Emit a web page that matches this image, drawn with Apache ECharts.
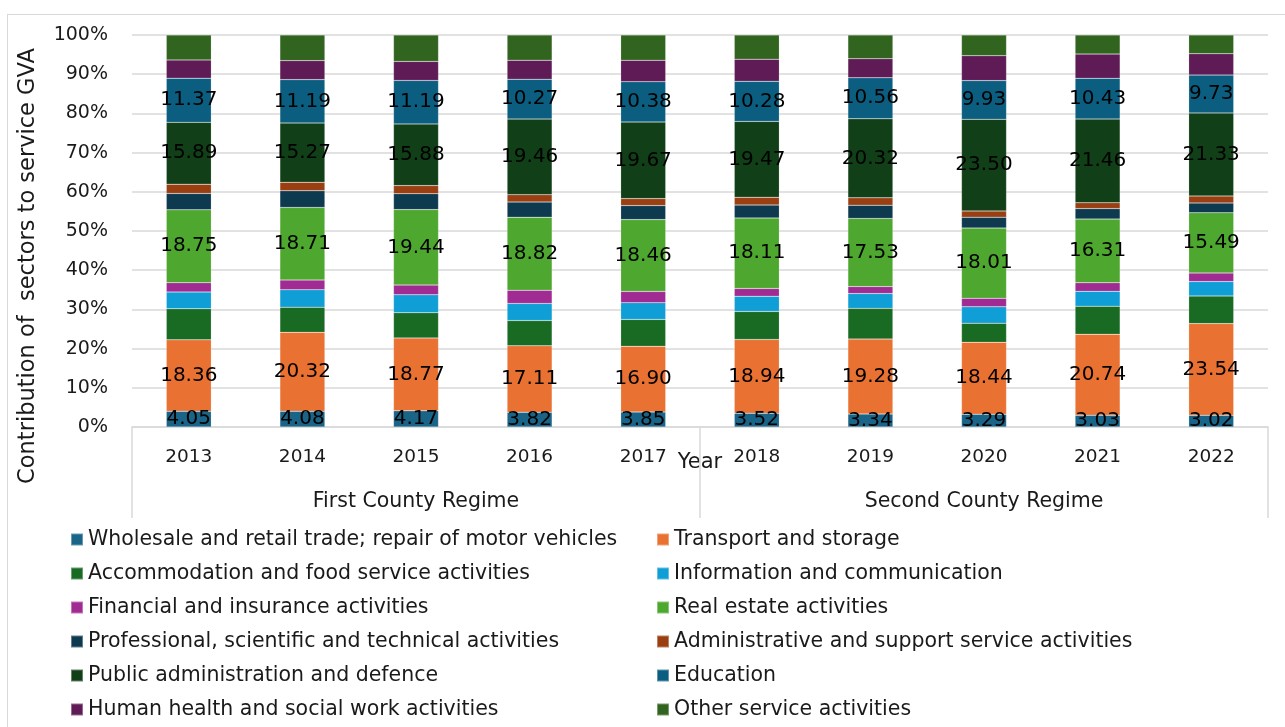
<!DOCTYPE html>
<html lang="en">
<head>
<meta charset="UTF-8">
<title>service GVA</title>
<style type="text/css">
body,html{ width:100%; height:100%; margin:0; padding:0; background:#fff; }
#frame{ position:absolute; left:7px; top:14px; width:1290px; height:720px; border:1.5px solid #d9d9d9; }
#container{ position:absolute; left:0; top:0; width:1285px; height:727px; }
</style>
</head>
<body>
<div id="frame"></div>
<div id="container"></div>
<script type="text/javascript" src="https://cdn.jsdelivr.net/npm/echarts@6/dist/echarts.min.js"></script>
<script type="text/javascript">
var years = ['2013','2014','2015','2016','2017','2018','2019','2020','2021','2022'];
var regimes = ['First County Regime','Second County Regime'];

// raw values (labelled ones are exact)
var wholesale     = [4.05, 4.08, 4.17, 3.82, 3.85, 3.52, 3.34, 3.29, 3.03, 3.02];
var transport     = [18.36, 20.32, 18.77, 17.11, 16.90, 18.94, 19.28, 18.44, 20.74, 23.54];
var accommodation = [8.0, 6.5, 6.5, 6.5, 6.9, 7.2, 7.9, 4.9, 7.2, 7.1];
var information   = [4.3, 4.5, 4.6, 4.4, 4.3, 3.9, 3.8, 4.2, 3.8, 3.7];
var financial     = [2.4, 2.5, 2.5, 3.4, 2.9, 2.0, 1.8, 2.2, 2.2, 2.2];
var realEstate    = [18.75, 18.71, 19.44, 18.82, 18.46, 18.11, 17.53, 18.01, 16.31, 15.49];
var professional  = [4.2, 4.3, 4.1, 3.9, 3.6, 3.3, 3.4, 2.8, 2.7, 2.5];
var administrative= [2.4, 2.2, 2.1, 1.9, 1.8, 2.0, 1.9, 1.6, 1.5, 1.8];
var publicAdmin   = [15.89, 15.27, 15.88, 19.46, 19.67, 19.47, 20.32, 23.50, 21.46, 21.33];
var education     = [11.37, 11.19, 11.19, 10.27, 10.38, 10.28, 10.56, 9.93, 10.43, 9.73];
var health        = [4.7, 4.9, 4.9, 4.9, 5.5, 5.7, 4.9, 6.4, 6.2, 5.5];
var otherServices = [6.4, 6.6, 6.8, 6.5, 6.5, 6.2, 6.1, 5.3, 4.9, 4.8];

var sectors = [
	{ name: 'Wholesale and retail trade; repair of motor vehicles', data: wholesale, color: '#1A6488', label: true },
	{ name: 'Transport and storage', data: transport, color: '#E97132', label: true },
	{ name: 'Accommodation and food service activities', data: accommodation, color: '#196B24' },
	{ name: 'Information and communication', data: information, color: '#0F9ED5' },
	{ name: 'Financial and insurance activities', data: financial, color: '#A02B93' },
	{ name: 'Real estate activities', data: realEstate, color: '#4EA72E', label: true },
	{ name: 'Professional, scientific and technical activities', data: professional, color: '#0E3A50' },
	{ name: 'Administrative and support service activities', data: administrative, color: '#9A3F12' },
	{ name: 'Public administration and defence', data: publicAdmin, color: '#113F17', label: true },
	{ name: 'Education', data: education, color: '#0B5E80', label: true },
	{ name: 'Human health and social work activities', data: health, color: '#5F1B55' },
	{ name: 'Other service activities', data: otherServices, color: '#31641E' }
];

// 100% stacking: share of each sector in the year's total
var totals = years.map(function (y, i) {
	var s = 0;
	sectors.forEach(function (sec) { s += sec.data[i]; });
	return s;
});

var font = 'DejaVu Sans';
var series = sectors.map(function (sec) {
	return {
		name: sec.name,
		type: 'bar',
		stack: 'gva',
		barWidth: 45,
		itemStyle: { color: sec.color, borderColor: 'rgba(255,255,255,0.35)', borderWidth: 0.5 },
		label: {
			show: !!sec.label,
			position: 'inside',
			color: '#000',
			fontFamily: font,
			fontSize: 20,
			formatter: function (p) { return p.data.raw.toFixed(2); }
		},
		data: sec.data.map(function (v, i) {
			return { value: v / totals[i] * 100, raw: v };
		})
	};
});

var leftNames = [], rightNames = [];
sectors.forEach(function (sec, i) {
	(i % 2 === 0 ? leftNames : rightNames).push(sec.name);
});
var legendBase = {
	orient: 'vertical',
	top: 529,
	bottom: 0,
	padding: 0,
	itemWidth: 12,
	itemHeight: 12,
	itemGap: 13,
	icon: 'rect',
	selectedMode: false,
	textStyle: { fontFamily: font, fontSize: 20.5, lineHeight: 20, color: '#1a1a1a' }
};

var option = {
	animation: false,
	backgroundColor: 'rgba(0,0,0,0)',
	grid: { left: 132, right: 17, top: 35, bottom: 300, containLabel: false },
	legend: [
		Object.assign({}, legendBase, { left: 70, data: leftNames }),
		Object.assign({}, legendBase, { left: 656, data: rightNames })
	],
	xAxis: [{
		type: 'category',
		data: years,
		name: 'Year',
		nameLocation: 'middle',
		nameGap: 25,
		nameMoveOverlap: false,
		nameTextStyle: { fontFamily: font, fontSize: 21, color: '#1a1a1a' },
		axisLine: { lineStyle: { color: '#d9d9d9', width: 1.5 } },
		axisTick: { show: false },
		axisLabel: { fontFamily: font, fontSize: 18.5, color: '#1a1a1a', margin: 21 }
	}, {
		type: 'category',
		data: regimes,
		position: 'bottom',
		axisLine: { show: false },
		axisTick: { show: true, length: 91, lineStyle: { color: '#d9d9d9', width: 1.5 } },
		axisLabel: { fontFamily: font, fontSize: 20.5, color: '#1a1a1a', margin: 64 }
	}],
	yAxis: {
		type: 'value',
		min: 0,
		max: 100,
		interval: 10,
		name: 'Contribution of  sectors to service GVA',
		nameLocation: 'middle',
		nameGap: 92,
		nameMoveOverlap: false,
		nameTextStyle: { fontFamily: font, fontSize: 22.5, color: '#1a1a1a', padding: [0, 70, 0, 0] },
		axisLabel: { formatter: '{value}%', fontFamily: font, fontSize: 19, color: '#1a1a1a', margin: 24 },
		splitLine: { lineStyle: { color: '#d9d9d9', width: 1.5 } }
	},
	series: series
};

var container = echarts.init(document.getElementById('container'));
container.setOption(option, true);
window.addEventListener('resize', function () {
	container.resize();
});
</script>
</body>
</html>
